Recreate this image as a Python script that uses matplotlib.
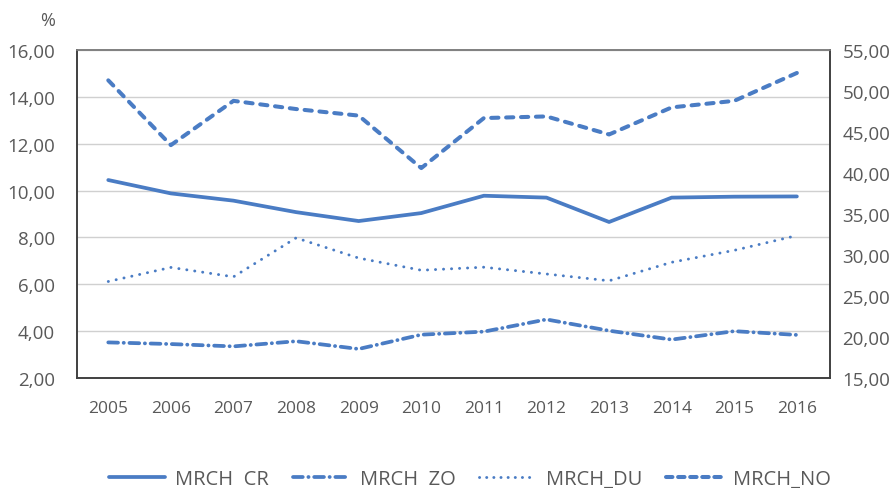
import numpy as np
import matplotlib
matplotlib.use("Agg")
import matplotlib.pyplot as plt
from matplotlib.ticker import FuncFormatter

# data
years = [2005, 2006, 2007, 2008, 2009, 2010, 2011, 2012, 2013, 2014, 2015, 2016]
mrch_cr = [10.45, 9.88, 9.57, 9.08, 8.70, 9.04, 9.78, 9.70, 8.66, 9.70, 9.74, 9.75]
mrch_zo = [3.52, 3.45, 3.35, 3.57, 3.24, 3.85, 3.98, 4.50, 4.02, 3.64, 4.00, 3.84]
mrch_du = [6.12, 6.72, 6.32, 7.98, 7.12, 6.60, 6.73, 6.44, 6.15, 6.94, 7.45, 8.08]
mrch_no = [51.3, 43.4, 48.8, 47.8, 47.0, 40.6, 46.7, 46.9, 44.7, 48.0, 48.8, 52.2]  # right axis

labels = ["MRCH  CR", "MRCH  ZO", "MRCH_DU", "MRCH_NO"]

blue = "#4A7CC4"
grey_txt = "#595959"
plt.rcParams["font.family"] = ["Open Sans", "DejaVu Sans"]

style_cr = {"color": blue, "lw": 2.7, "ls": "-", "solid_joinstyle": "round", "solid_capstyle": "round"}
style_zo = {"color": blue, "lw": 2.7, "ls": (0, (2.6, 1.5, 0.05, 1.5)), "dash_capstyle": "round"}
style_du = {"color": blue, "lw": 2.1, "ls": (0, (0.05, 2.7)), "dash_capstyle": "round"}
style_no = {"color": blue, "lw": 2.9, "ls": (0, (1.8, 1.9)), "dash_capstyle": "round"}

fig = plt.figure(figsize=(8.93, 4.89), dpi=100)
ax = fig.add_axes([0.0862, 0.2249, 0.8433, 0.6708])
ax2 = ax.twinx()

l_cr, = ax.plot(years, mrch_cr, **style_cr)
l_zo, = ax.plot(years, mrch_zo, **style_zo)
l_du, = ax.plot(years, mrch_du, **style_du)
l_no, = ax2.plot(years, mrch_no, **style_no)

ax.set_xlim(2004.5, 2016.53)
ax.set_ylim(2, 16)
ax2.set_ylim(15, 55)
ax.set_yticks(np.arange(2, 16.1, 2))
ax2.set_yticks(np.arange(15, 55.1, 5))
ax.set_xticks(years)
ax.set_xticklabels([str(y) for y in years])

comma = FuncFormatter(lambda v, p: f"{v:.2f}".replace(".", ","))
ax.yaxis.set_major_formatter(comma)
ax2.yaxis.set_major_formatter(comma)

ax.grid(axis="y", color="#D0D0D0", lw=1.0)
ax.set_axisbelow(True)
ax.tick_params(axis="x", length=0, pad=16, labelsize=12.5, labelcolor=grey_txt)
ax.tick_params(axis="y", length=0, pad=16, labelsize=13.5, labelcolor=grey_txt)
ax2.tick_params(axis="y", length=0, pad=9, labelsize=13.5, labelcolor=grey_txt)

for a in (ax, ax2):
    for side in ("left", "right", "bottom"):
        a.spines[side].set_color("#404040")
        a.spines[side].set_linewidth(1.2)
    a.spines["top"].set_color("#808080")
    a.spines["top"].set_linewidth(1.2)

fig.text(0.053, 0.958, "%", fontsize=13, color=grey_txt, ha="center", va="center")

# legend with slightly denser patterns, like the reference
leg_handles = [
    plt.Line2D([], [], **style_cr),
    plt.Line2D([], [], **style_zo),
    plt.Line2D([], [], **dict(style_du, ls=(0, (0.05, 2.4)))),
    plt.Line2D([], [], **dict(style_no, ls=(0, (1.6, 1.4)))),
]
fig.legend(leg_handles, labels, loc="center", bbox_to_anchor=(0.526, 0.018), ncol=4,
           frameon=False, fontsize=14.5, labelcolor=grey_txt, handlelength=2.8,
           columnspacing=1.2, handletextpad=0.5)

fig.savefig("out.png", dpi=100)
